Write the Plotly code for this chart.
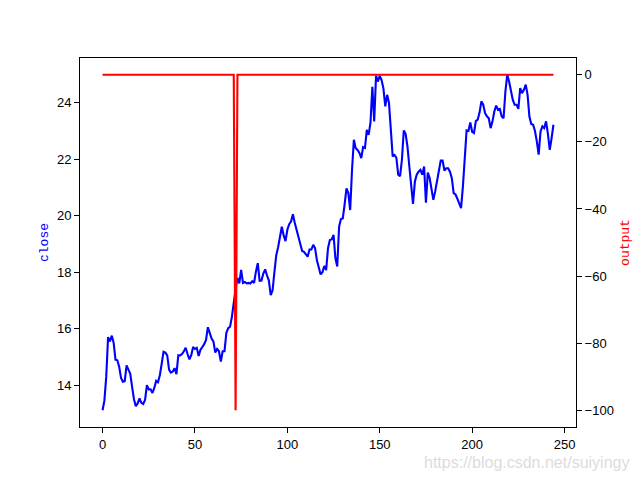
import plotly.graph_objects as go

close = [
    13.11, 13.45, 14.3, 15.7, 15.55, 15.75, 15.5, 14.9, 14.88, 14.65,
    14.25, 14.12, 14.14, 14.7, 14.55, 14.4, 13.94, 13.5, 13.25, 13.35,
    13.53, 13.37, 13.33, 13.47, 14.0, 13.85, 13.85, 13.72, 13.9, 14.15,
    14.1, 14.35, 14.75, 15.18, 15.15, 15.05, 14.55, 14.44, 14.48, 14.6,
    14.39, 15.06, 15.05, 15.1, 15.2, 15.32, 15.1, 14.91, 15.06, 15.35,
    15.28, 15.32, 15.03, 15.25, 15.35, 15.45, 15.6, 16.05, 15.85, 15.65,
    15.55, 15.15, 15.28, 15.2, 14.83, 15.2, 15.2, 15.85, 16.02, 16.07,
    16.42, 17.0, 17.4, 17.8, 17.6, 18.08, 17.62, 17.65, 17.6, 17.62,
    17.6, 17.68, 17.62, 18.02, 18.32, 17.69, 17.7, 17.95, 18.1, 17.88,
    17.7, 17.19, 17.35, 18.0, 18.6, 18.88, 19.2, 19.61, 19.3, 19.1,
    19.5, 19.7, 19.79, 20.05, 19.75, 19.5, 19.2, 18.9, 18.75, 18.72,
    18.65, 18.55, 18.8, 18.8, 18.97, 18.85, 18.42, 18.15, 17.92, 18.0,
    18.22, 18.07, 18.85, 19.14, 19.16, 19.32, 18.5, 18.2, 19.61, 19.88,
    19.9, 20.4, 20.97, 20.8, 20.2, 21.62, 22.69, 22.39, 22.33, 22.22,
    22.04, 22.43, 22.4, 23.04, 22.86, 23.3, 24.56, 23.34, 24.96, 24.75,
    24.95, 24.8, 24.5, 23.87, 24.28, 23.99, 23.0, 22.1, 22.15, 22.05,
    21.45, 21.4, 21.98, 23.02, 22.9, 22.45, 21.75, 21.0, 20.42, 21.2,
    21.45, 21.56, 21.62, 21.45, 21.74, 20.46, 21.53, 21.33, 20.86, 20.56,
    20.86, 21.27, 21.62, 21.95, 21.95, 21.6, 21.68, 21.68, 21.56, 21.33,
    20.8, 20.75, 20.6, 20.4, 20.27, 21.03, 22.0, 23.02, 23.0, 23.3,
    22.97, 22.93, 23.35, 23.4, 23.65, 24.05, 23.93, 23.63, 23.52, 23.45,
    23.1, 23.34, 23.69, 23.9, 23.75, 23.78, 23.51, 23.45, 24.4, 24.99,
    24.75, 24.4, 24.1, 23.93, 23.93, 23.78, 24.52, 24.34, 24.46, 24.64,
    24.28, 23.5, 23.25, 23.22, 23.0, 22.63, 22.16, 22.98, 23.16, 23.1,
    23.34, 22.9, 22.33, 22.75, 23.22,
]
spike_index = 72
spike_value = -100
output = [spike_value if i == spike_index else 0 for i in range(len(close))]
x = list(range(len(close)))

x_ticks = [0, 50, 100, 150, 200, 250]
left_ticks = [14, 16, 18, 20, 22, 24]
right_ticks = [0, -20, -40, -60, -80, -100]


def padded(lo, hi, frac=0.05):
    r = hi - lo
    return [lo - frac * r, hi + frac * r]


fig = go.Figure()
fig.add_trace(go.Scatter(x=x, y=close, mode="lines", name="close",
                         line=dict(color="blue", width=2.1), yaxis="y"))
fig.add_trace(go.Scatter(x=x, y=output, mode="lines", name="output",
                         line=dict(color="red", width=2.1), yaxis="y2"))

tickfont = dict(family="Liberation Sans, Arial, sans-serif", size=13, color="black")
axis_common = dict(showgrid=False, zeroline=False, showline=True, linecolor="black",
                   linewidth=1, ticks="outside", ticklen=5, tickwidth=1,
                   tickcolor="black", tickfont=tickfont, automargin=False)

fig.update_layout(
    width=640, height=480,
    margin=dict(l=80, r=64, t=58, b=53, pad=0),
    paper_bgcolor="white", plot_bgcolor="white",
    showlegend=False,
    xaxis=dict(range=padded(0, len(close) - 1), tickvals=x_ticks, mirror=True,
               **axis_common),
    yaxis=dict(range=padded(min(close), max(close)), tickvals=left_ticks,
               title=dict(text="close", standoff=5,
                          font=dict(family="Liberation Mono, monospace", size=13, color="blue")),
               **axis_common),
    yaxis2=dict(range=padded(min(output), max(output)), tickvals=right_ticks,
                overlaying="y", side="right",
                title=dict(text="output", standoff=7,
                           font=dict(family="Liberation Mono, monospace", size=13, color="red")),
                **axis_common),
    annotations=[dict(text="https://blog.csdn.net/suiyingy", x=1.0, y=0.0,
                      xref="paper", yref="paper", xanchor="right", yanchor="bottom",
                      xshift=55, yshift=-46, showarrow=False,
                      font=dict(family="Liberation Sans, Arial, sans-serif", size=16,
                                color="#dcdcdc"))],
)

fig.write_html("out.html", config={"displayModeBar": False},
               post_script="document.body.style.margin='0';document.body.style.padding='0';")
